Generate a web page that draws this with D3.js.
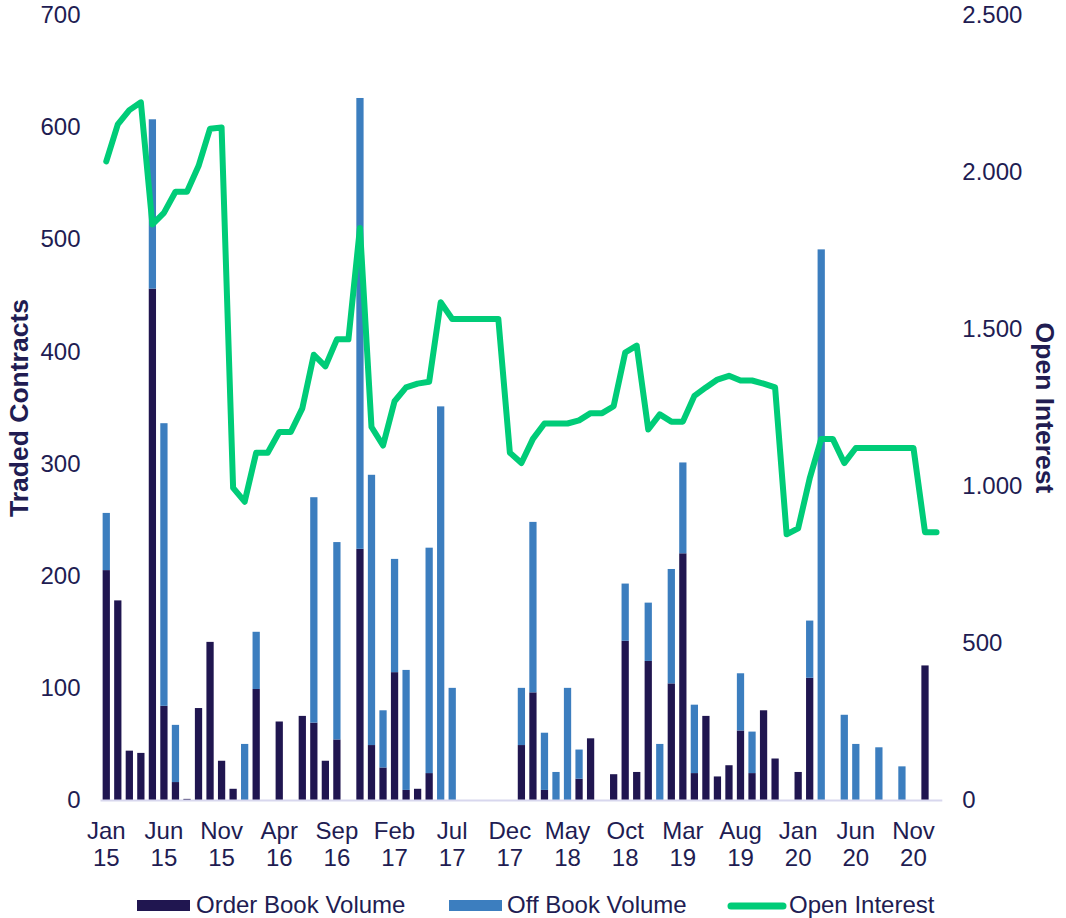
<!DOCTYPE html>
<html>
<head>
<meta charset="utf-8">
<script src="https://cdn.jsdelivr.net/npm/d3@7"></script>
<style>
  html, body { margin: 0; padding: 0; background: #fff; }
  svg { display: block; font-family: "Liberation Sans", Arial, sans-serif; }
</style>
</head>
<body>
<svg id="chart" width="1066" height="918"></svg>
<script>
// ---- data ----
const months = ["Jan 15","Feb 15","Mar 15","Apr 15","May 15","Jun 15","Jul 15","Aug 15","Sep 15","Oct 15","Nov 15","Dec 15",
  "Jan 16","Feb 16","Mar 16","Apr 16","May 16","Jun 16","Jul 16","Aug 16","Sep 16","Oct 16","Nov 16","Dec 16",
  "Jan 17","Feb 17","Mar 17","Apr 17","May 17","Jun 17","Jul 17","Aug 17","Sep 17","Oct 17","Nov 17","Dec 17",
  "Jan 18","Feb 18","Mar 18","Apr 18","May 18","Jun 18","Jul 18","Aug 18","Sep 18","Oct 18","Nov 18","Dec 18",
  "Jan 19","Feb 19","Mar 19","Apr 19","May 19","Jun 19","Jul 19","Aug 19","Sep 19","Oct 19","Nov 19","Dec 19",
  "Jan 20","Feb 20","Mar 20","Apr 20","May 20","Jun 20","Jul 20","Aug 20","Sep 20","Oct 20","Nov 20","Dec 20",
  "Jan 21"];

const orderBook = [205,178,44,42,456,84,16,1,82,141,35,10,
  0,99,0,70,0,75,69,35,54,0,224,49,
  29,114,9,10,24,0,0,0,0,0,0,0,
  49,96,9,0,0,19,55,0,23,142,25,124,
  0,104,220,24,75,21,31,62,24,80,37,0,
  25,109,0,0,0,0,0,0,0,0,0,120,
  0];

const offBook = [51,0,0,0,151,252,51,0,0,0,0,0,
  50,51,0,0,0,0,201,0,176,0,402,241,
  51,101,107,0,201,351,100,0,0,0,0,0,
  51,152,51,25,100,26,0,0,0,51,0,52,
  50,102,81,61,0,0,0,51,37,0,0,0,
  0,51,491,0,76,50,0,47,0,30,0,0,
  0];

const openInterest = [2034,2152,2197,2222,1833,1870,1937,1937,2019,2138,2142,994,
  950,1106,1106,1172,1172,1247,1418,1381,1467,1467,1822,1188,
  1129,1270,1314,1326,1332,1585,1532,1532,1532,1532,1532,1106,
  1073,1150,1199,1199,1199,1209,1232,1232,1254,1425,1447,1180,
  1228,1205,1205,1287,1314,1339,1351,1336,1336,1326,1314,846,
  865,1024,1150,1150,1073,1121,1121,1121,1121,1121,1121,853,
  853];

const tickMonths = ["Jan 15","Jun 15","Nov 15","Apr 16","Sep 16","Feb 17","Jul 17","Dec 17","May 18","Oct 18","Mar 19","Aug 19","Jan 20","Jun 20","Nov 20"];
const leftTicks = [0,100,200,300,400,500,600,700];
const rightTicks = [0,500,1000,1500,2000,2500];
const seriesNames = ["Order Book Volume","Off Book Volume","Open Interest"];

// ---- style ----
const textColor = "#211c52";
const darkColor = "#201650";
const blueColor = "#3c7ebf";
const greenColor = "#00cc78";
const fontSize = 24;

const svg = d3.select("#chart");
const x0 = 100.5, x1 = 942.3, yBottom = 800, yTop = 15;

const x = d3.scaleBand().domain(months).range([x0, x1]).paddingInner(0.37).paddingOuter(0.185);
const yL = d3.scaleLinear().domain([0, 700]).range([yBottom, yTop]);
const yR = d3.scaleLinear().domain([0, 2500]).range([yBottom, yTop]);

const rows = months.map((m, i) => ({ m, order: orderBook[i], off: offBook[i], oi: openInterest[i] }));

// bars: order book (bottom)
svg.append("g").selectAll("rect").data(rows.filter(d => d.order > 0)).join("rect")
  .attr("x", d => x(d.m)).attr("width", x.bandwidth())
  .attr("y", d => yL(d.order)).attr("height", d => yL(0) - yL(d.order))
  .attr("fill", darkColor);

// bars: off book (stacked on top)
svg.append("g").selectAll("rect").data(rows.filter(d => d.off > 0)).join("rect")
  .attr("x", d => x(d.m)).attr("width", x.bandwidth())
  .attr("y", d => yL(d.order + d.off)).attr("height", d => yL(d.order) - yL(d.order + d.off))
  .attr("fill", blueColor);

// baseline
svg.append("line").attr("x1", x0).attr("x2", x1).attr("y1", yBottom + 0.5).attr("y2", yBottom + 0.5)
  .attr("stroke", "#d8d7ee").attr("stroke-width", 2);

// open interest line
const line = d3.line().x(d => x(d.m) + x.bandwidth() / 2).y(d => yR(d.oi));
svg.append("path").datum(rows).attr("d", line)
  .attr("fill", "none").attr("stroke", greenColor).attr("stroke-width", 6)
  .attr("stroke-linejoin", "round").attr("stroke-linecap", "round");

// left axis
const axL = svg.append("g").attr("transform", `translate(${x0},0)`)
  .call(d3.axisLeft(yL).tickValues(leftTicks).tickSize(0).tickPadding(20).tickFormat(d3.format("d")));
axL.select(".domain").remove();
axL.selectAll("text").attr("fill", textColor).style("font-size", fontSize + "px")
  .style("font-family", '"Liberation Sans", Arial, sans-serif');

// right axis
const loc = d3.formatLocale({ decimal: ",", thousands: ".", grouping: [3], currency: ["", ""] });
const axR = svg.append("g").attr("transform", `translate(${x1},0)`)
  .call(d3.axisRight(yR).tickValues(rightTicks).tickSize(0).tickPadding(20).tickFormat(loc.format(",d")));
axR.select(".domain").remove();
axR.selectAll("text").attr("fill", textColor).style("font-size", fontSize + "px")
  .style("font-family", '"Liberation Sans", Arial, sans-serif');

// x labels (two lines)
const xl = svg.append("g").selectAll("text").data(tickMonths).join("text")
  .attr("text-anchor", "middle").attr("fill", textColor).style("font-size", fontSize + "px");
xl.append("tspan").attr("x", d => x(d) + x.bandwidth() / 2).attr("y", 839).text(d => d.split(" ")[0]);
xl.append("tspan").attr("x", d => x(d) + x.bandwidth() / 2).attr("y", 866).text(d => d.split(" ")[1]);

// axis titles
svg.append("text").attr("transform", "translate(28,408) rotate(-90)")
  .attr("text-anchor", "middle").attr("fill", textColor)
  .style("font-size", "26.5px").style("font-weight", "bold").text("Traded Contracts");
svg.append("text").attr("transform", "translate(1036,408) rotate(90)")
  .attr("text-anchor", "middle").attr("fill", textColor)
  .style("font-size", "26.5px").style("font-weight", "bold").text("Open Interest");

// legend
const lg = svg.append("g");
lg.append("rect").attr("x", 137).attr("y", 900).attr("width", 53).attr("height", 11).attr("fill", darkColor);
lg.append("text").attr("x", 196).attr("y", 913).attr("fill", textColor).style("font-size", fontSize + "px").text(seriesNames[0]);
lg.append("rect").attr("x", 449).attr("y", 900).attr("width", 53).attr("height", 11).attr("fill", blueColor);
lg.append("text").attr("x", 507).attr("y", 913).attr("fill", textColor).style("font-size", fontSize + "px").text(seriesNames[1]);
lg.append("line").attr("x1", 731).attr("x2", 783).attr("y1", 906).attr("y2", 906)
  .attr("stroke", greenColor).attr("stroke-width", 7).attr("stroke-linecap", "round");
lg.append("text").attr("x", 789).attr("y", 913).attr("fill", textColor).style("font-size", fontSize + "px").text(seriesNames[2]);
</script>
</body>
</html>
